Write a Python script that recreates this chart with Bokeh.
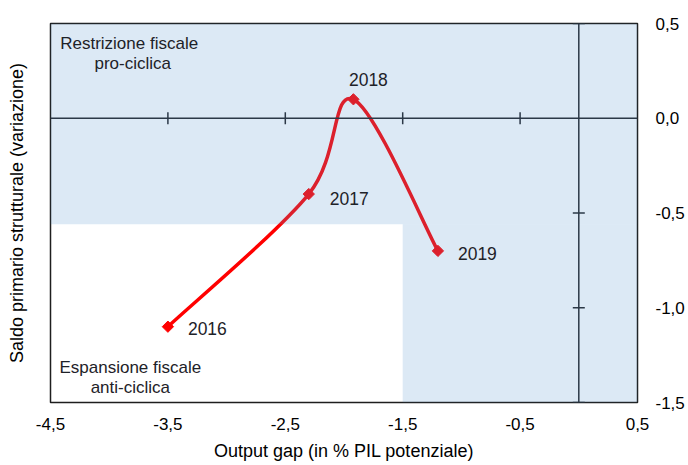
import numpy as np
from bokeh.plotting import figure
from bokeh.models import (FixedTicker, LinearAxis, Span, Label, Range1d,
                          CustomJSTickFormatter)
from bokeh.embed import file_html
from bokeh.resources import INLINE

# ---- data ----
years = ["2016", "2017", "2018", "2019"]
output_gap = [-3.5, -2.3, -1.92, -1.2]
saldo = [-1.1, -0.4, 0.1, -0.7]

x_ticks = [-4.5, -3.5, -2.5, -1.5, -0.5, 0.5]
x_tick_labels = ["-4,5", "-3,5", "-2,5", "-1,5", "-0,5", "0,5"]
y_ticks = [-1.5, -1.0, -0.5, 0.0, 0.5]
y_tick_labels = ["-1,5", "-1,0", "-0,5", "0,0", "0,5"]

# unshaded quadrant (anti-cyclical expansion zone)
white_right = -1.5
white_top = -0.56

FONT = "Liberation Sans"
AXIS_COLOR = "#2b3847"
TEXT_COLOR = "#1e2228"

x0r, x1r = x_ticks[0], x_ticks[-1]
y0r, y1r = y_ticks[0], y_ticks[-1]

p = figure(width=688, height=465, x_range=Range1d(x0r, x1r), y_range=Range1d(y0r, y1r),
           x_axis_location=None, y_axis_location=None,
           output_backend="svg", toolbar_location=None,
           min_border_left=50, min_border_right=51, min_border_top=23, min_border_bottom=63)
p.grid.visible = False
p.background_fill_color = "white"
p.border_fill_color = "white"
p.outline_line_color = "#1e1e1e"
p.outline_line_width = 1.5

def fmt(tv, tl):
    return CustomJSTickFormatter(args=dict(tvals=tv, tlabs=tl), code="""
        const i = tvals.findIndex(t => Math.abs(t - tick) < 1e-9);
        return i >= 0 ? tlabs[i] : '';
    """)

xa = LinearAxis(ticker=FixedTicker(ticks=x_ticks), formatter=fmt(x_ticks, x_tick_labels),
                axis_line_color=None, major_tick_line_color=None, minor_tick_line_color=None,
                major_tick_in=0, major_tick_out=0, minor_tick_in=0, minor_tick_out=0,
                major_label_standoff=15, major_label_text_font=FONT,
                major_label_text_font_size="17px", major_label_text_color="#000000",
                axis_label="Output gap (in % PIL potenziale)", axis_label_standoff=8,
                axis_label_text_font=FONT, axis_label_text_font_size="18px",
                axis_label_text_font_style="normal", axis_label_text_color="#000000")
p.add_layout(xa, "below")

ya = LinearAxis(ticker=FixedTicker(ticks=y_ticks), formatter=fmt(y_ticks, y_tick_labels),
                axis_line_color=None, major_tick_line_color=None, minor_tick_line_color=None,
                major_tick_in=0, major_tick_out=0, minor_tick_in=0, minor_tick_out=0,
                major_label_standoff=18, major_label_text_font=FONT,
                major_label_text_font_size="17px", major_label_text_color="#000000")
p.add_layout(ya, "right")

yl = LinearAxis(ticker=FixedTicker(ticks=[]), axis_line_color=None,
                major_tick_line_color=None, minor_tick_line_color=None,
                major_label_standoff=0, major_label_text_font_size="1px",
                axis_label="Saldo primario strutturale (variazione)", axis_label_standoff=24,
                axis_label_text_font=FONT, axis_label_text_font_size="18px",
                axis_label_text_font_style="normal", axis_label_text_color="#000000")
p.add_layout(yl, "left")

# ---- smooth curve (Catmull-Rom style bezier through the points) ----
P = np.column_stack([output_gap, saldo])
prev = np.vstack([P[:1], P[:-1]])
nxt = np.vstack([P[1:], P[-1:]])
tan = (nxt - prev) / 6.0
c0 = P[:-1] + tan[:-1]
c1 = P[1:] - tan[1:]
p.bezier(x0=P[:-1, 0], y0=P[:-1, 1], x1=P[1:, 0], y1=P[1:, 1],
         cx0=c0[:, 0], cy0=c0[:, 1], cx1=c1[:, 0], cy1=c1[:, 1],
         line_color="#ff0000", line_width=3.5, line_cap="round")
p.scatter(x=output_gap, y=saldo, marker="square", angle=np.pi / 4, size=8,
          fill_color="#ff0000", line_color="#ff0000")

# ---- translucent blue shading drawn over the curve ----
p.quad(left=[x0r, white_right], right=[x1r, x1r], bottom=[white_top, y0r], top=[y1r, white_top],
       fill_color="#5a98d1", fill_alpha=0.21, line_color=None)

# ---- crossing axes at zero ----
p.add_layout(Span(location=0, dimension="width", line_color=AXIS_COLOR, line_width=1.5))
p.add_layout(Span(location=0, dimension="height", line_color=AXIS_COLOR, line_width=1.5))
inner_x = x_ticks[1:-1]
inner_y = [t for t in y_ticks if t != 0]
p.scatter(x=inner_x, y=[0] * len(inner_x), marker="dash", angle=np.pi / 2, size=12,
          line_color=AXIS_COLOR, line_width=1.5)
p.scatter(x=[0] * len(inner_y), y=inner_y, marker="dash", size=12,
          line_color=AXIS_COLOR, line_width=1.5)

# ---- year labels ----
year_offsets = [(20, -2, "left"), (21, -4, "left"), (15, 20, "center"), (20, -3, "left")]
for yr, xv, yv, (dx, dy, al) in zip(years, output_gap, saldo, year_offsets):
    p.add_layout(Label(x=xv, y=yv, text=yr, x_offset=dx, y_offset=dy, text_align=al,
                       text_baseline="middle", text_font=FONT, text_font_size="17.5px",
                       text_color=TEXT_COLOR))

# ---- zone annotations ----
notes = [("Restrizione fiscale", -3.83, 0.396), ("pro-ciclica", -3.80, 0.287),
         ("Espansione fiscale", -3.82, -1.317), ("anti-ciclica", -3.82, -1.422)]
for txt, xv, yv in notes:
    p.add_layout(Label(x=xv, y=yv, text=txt, text_align="center", text_baseline="middle",
                       text_font=FONT, text_font_size="17px", text_color=TEXT_COLOR))

open("out.html", "w").write(file_html(p, INLINE))
